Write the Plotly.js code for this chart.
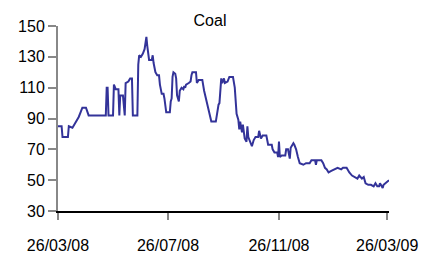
<!DOCTYPE html>
<html>
<head>
<meta charset="utf-8">
<script src="https://cdn.plot.ly/plotly-3.0.1.min.js"></script>
<style>html,body{margin:0;padding:0;background:#fff;}#chart{width:421px;height:256px;}</style>
</head>
<body>
<div id="chart"></div>
<script>
const dates = [
"2008-03-26","2008-03-30","2008-03-31","2008-04-06","2008-04-07","2008-04-11","2008-04-13","2008-04-16","2008-04-18","2008-04-20",
"2008-04-22","2008-04-26","2008-04-29","2008-05-18","2008-05-19","2008-05-20","2008-05-21","2008-05-26","2008-05-27","2008-05-29",
"2008-06-01","2008-06-02","2008-06-03","2008-06-06","2008-06-07","2008-06-08","2008-06-09","2008-06-12","2008-06-14","2008-06-16",
"2008-06-17","2008-06-22","2008-06-23","2008-06-24","2008-06-26","2008-06-28","2008-06-30","2008-07-01","2008-07-02","2008-07-03",
"2008-07-05","2008-07-08","2008-07-09","2008-07-10","2008-07-12","2008-07-14","2008-07-16","2008-07-17","2008-07-19","2008-07-21",
"2008-07-22","2008-07-24","2008-07-28","2008-07-29","2008-07-30","2008-07-31","2008-08-01","2008-08-03","2008-08-04","2008-08-05",
"2008-08-07","2008-08-08","2008-08-10","2008-08-12","2008-08-13","2008-08-14","2008-08-15","2008-08-18","2008-08-20","2008-08-21",
"2008-08-22","2008-08-26","2008-08-27","2008-08-29","2008-09-02","2008-09-04","2008-09-06","2008-09-08","2008-09-11","2008-09-12",
"2008-09-17","2008-09-18","2008-09-20","2008-09-21","2008-09-22","2008-09-23","2008-09-24","2008-09-26","2008-09-27","2008-09-30",
"2008-10-02","2008-10-06","2008-10-08","2008-10-09","2008-10-10","2008-10-12","2008-10-13","2008-10-14","2008-10-16","2008-10-17",
"2008-10-19","2008-10-21","2008-10-22","2008-10-23","2008-10-25","2008-10-27","2008-10-29","2008-10-31","2008-11-03","2008-11-04",
"2008-11-06","2008-11-08","2008-11-12","2008-11-14","2008-11-18","2008-11-19","2008-11-21","2008-11-24","2008-11-25","2008-11-26",
"2008-11-27","2008-11-29","2008-12-03","2008-12-04","2008-12-06","2008-12-08","2008-12-09","2008-12-12","2008-12-13","2008-12-15",
"2008-12-17","2008-12-19","2008-12-23","2008-12-26","2008-12-30","2009-01-01","2009-01-05","2009-01-06","2009-01-07","2009-01-12",
"2009-01-14","2009-01-16","2009-01-18","2009-01-20","2009-01-23","2009-01-27","2009-01-30","2009-02-03","2009-02-05","2009-02-09",
"2009-02-12","2009-02-15","2009-02-18","2009-02-21","2009-02-23","2009-02-26","2009-02-28","2009-03-02","2009-03-05","2009-03-08",
"2009-03-11","2009-03-13","2009-03-15","2009-03-17","2009-03-18","2009-03-21","2009-03-22","2009-03-24","2009-03-26","2009-03-28"
];
const coal = [
85,85,78,78,85,84,86,89,91,94,
97,97,92,92,110,110,92,92,112,109,
109,92,105,105,95,92,113,114,116,116,
92,92,125,131,130,132,135,138,143,137,
128,128,131,126,120,118,118,112,106,106,
103,94,94,101,103,117,120,119,116,105,
101,108,110,109,111,110,112,113,114,118,
120,120,113,115,115,108,103,100,92,88,
88,92,99,100,110,116,113,116,113,114,
117,117,110,100,93,89,83,88,81,86,
77,75,85,78,75,72,76,78,78,82,
77,79,79,73,73,70,68,68,65,75,
65,66,66,70,70,64,71,74,73,70,
65,61,60,61,61,63,63,60,63,63,
61,58,57,55,56,57,58,57,58,58,
55,53,52,51,53,51,52,48,47,47,
46,48,46,46,48,45,47,48,49,50
];
const xTickVals = ["2008-03-26","2008-07-26","2008-11-26","2009-03-26"];
const xTickText = ["26/03/08","26/07/08","26/11/08","26/03/09"];
const yTickVals = [30,50,70,90,110,130,150];
const chartTitle = "Coal";

const font = {family: "Liberation Sans, Arial, sans-serif", size: 16, color: "#000"};

Plotly.newPlot("chart", [{
  type: "scatter", mode: "lines", x: dates, y: coal,
  line: {color: "#333399", width: 2}, hoverinfo: "skip"
}], {
  width: 421, height: 256,
  margin: {l: 58, r: 32, t: 26, b: 45},
  paper_bgcolor: "#fff", plot_bgcolor: "#fff",
  showlegend: false,
  font: font,
  title: {text: chartTitle, font: font, x: 210/421, xref: "container", xanchor: "center", y: 1 - 20/256, yref: "container", yanchor: "middle"},
  xaxis: {
    type: "date", range: ["2008-03-26", "2009-03-28"],
    tickvals: xTickVals, ticktext: xTickText,
    showgrid: false, zeroline: false,
    showline: true, linecolor: "#000", linewidth: 1.5,
    ticks: "outside", ticklen: 7, tickwidth: 2, tickcolor: "#888",
    ticklabelstandoff: 12, tickfont: font
  },
  xaxis2: {
    type: "date", overlaying: "x", matches: "x", anchor: "y", side: "bottom",
    range: ["2008-03-26", "2009-03-28"],
    tickvals: xTickVals, showticklabels: false,
    showgrid: false, zeroline: false, showline: false,
    ticks: "inside", ticklen: 7, tickwidth: 2, tickcolor: "#888"
  },
  yaxis: {
    range: [30, 150], tickvals: yTickVals,
    showgrid: false, zeroline: false,
    showline: true, linecolor: "#888", linewidth: 2,
    ticks: "outside", ticklen: 8, tickwidth: 2, tickcolor: "#888",
    tickfont: font
  }
}, {staticPlot: true});
</script>
</body>
</html>
